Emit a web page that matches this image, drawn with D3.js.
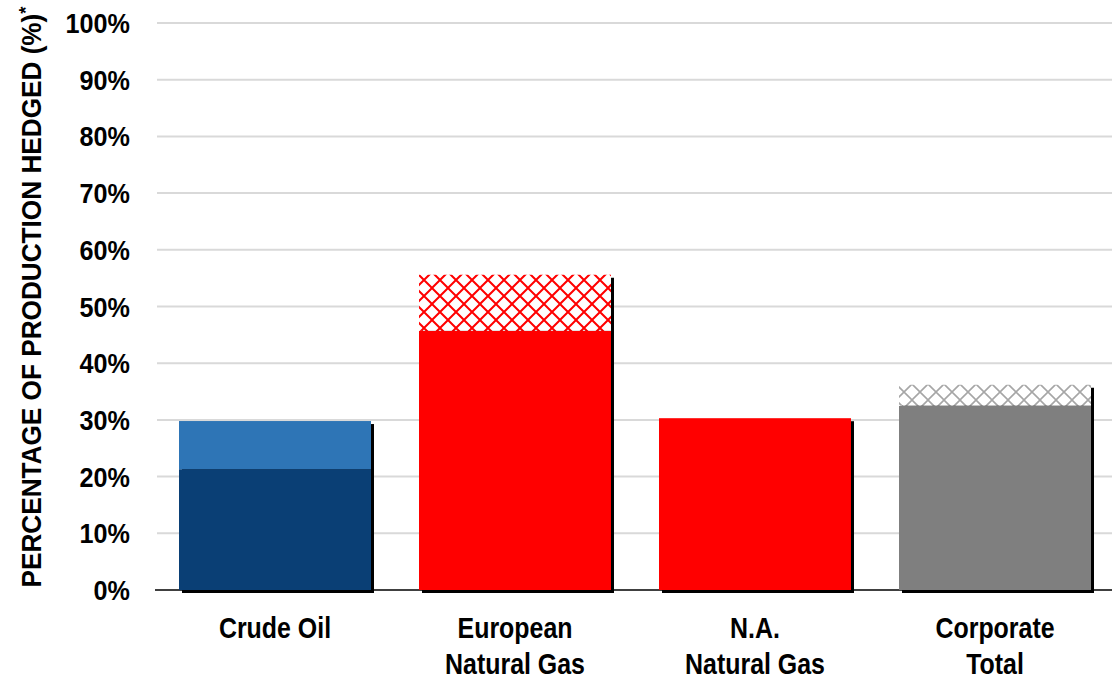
<!DOCTYPE html>
<html>
<head>
<meta charset="utf-8">
<script src="https://cdn.jsdelivr.net/npm/d3@7"></script>
<style>
  body { margin: 0; background: #fff; }
  svg text { fill: #000; }
</style>
</head>
<body>
<div class="barplot"></div>
<script>
// data
var categories = [["Crude Oil"], ["European", "Natural Gas"], ["N.A.", "Natural Gas"], ["Corporate", "Total"]];
var baseHedged = [21.3, 45.7, 30.3, 32.5];
var extraHedged = [8.5, 9.9, 0, 3.7];
var yTicks = [0, 10, 20, 30, 40, 50, 60, 70, 80, 90, 100];

var baseColors = ["#0a3f75", "#ff0000", "#ff0000", "#7f7f7f"];
var extraFills = ["#2e75b6", "url(#hatchRed)", "#ff0000", "url(#hatchGray)"];

var width = 1112, height = 678;
var margin = {top: 23, left: 155, right: -3, bottom: 88};
var fontFam = "'Liberation Sans', Arial, sans-serif";

var svg = d3.select(".barplot").append("svg")
    .attr("width", width)
    .attr("height", height);

// patterns
var defs = svg.append("defs");
function hatch(id, color, sw) {
  var p = defs.append("pattern")
      .attr("id", id)
      .attr("patternUnits", "userSpaceOnUse")
      .attr("width", 16)
      .attr("height", 16);
  p.append("rect").attr("width", 16).attr("height", 16).style("fill", "#fff");
  p.append("path")
      .attr("d", "M0,0L16,16M16,0L0,16M-8,8L8,-8M8,24L24,8M-8,8L8,24M8,-8L24,8")
      .style("stroke", color)
      .style("stroke-width", sw)
      .style("fill", "none");
}
hatch("hatchRed", "#ff0000", 2);
hatch("hatchGray", "#a6a6a6", 1.6);

var x = d3.scaleBand()
    .domain(d3.range(categories.length))
    .range([margin.left, width - margin.right])
    .paddingInner(0.2)
    .paddingOuter(0.1);

var y = d3.scaleLinear()
    .domain([0, 100])
    .range([height - margin.bottom, margin.top]);

// grid
svg.append("g")
  .selectAll("line")
  .data(yTicks.slice(1))
  .join("line")
    .attr("x1", margin.left + 2)
    .attr("x2", width)
    .attr("y1", d => y(d))
    .attr("y2", d => y(d))
    .style("stroke", "#d9d9d9")
    .style("stroke-width", 2);

// y tick labels (narrow look via horizontal scale)
svg.append("g")
  .selectAll("text")
  .data(yTicks)
  .join("text")
    .attr("transform", d => "translate(130," + y(d) + ") scale(0.9,1)")
    .attr("dy", "0.36em")
    .attr("text-anchor", "end")
    .style("font-family", fontFam)
    .style("font-weight", "bold")
    .style("font-size", "28px")
    .text(d => d + "%");

// baseline
svg.append("line")
    .attr("x1", margin.left)
    .attr("x2", width)
    .attr("y1", y(0))
    .attr("y2", y(0))
    .style("stroke", "#404040")
    .style("stroke-width", 2);

// shadows
svg.append("g")
  .selectAll("rect")
  .data(d3.range(categories.length))
  .join("rect")
    .attr("x", i => x(i) + 3)
    .attr("y", i => y(baseHedged[i] + extraHedged[i]) + 3)
    .attr("width", x.bandwidth())
    .attr("height", i => y(0) - y(baseHedged[i] + extraHedged[i]))
    .style("fill", "#000");

// base bars
svg.append("g")
  .selectAll("rect")
  .data(d3.range(categories.length))
  .join("rect")
    .attr("x", i => x(i))
    .attr("y", i => y(baseHedged[i]))
    .attr("width", x.bandwidth())
    .attr("height", i => y(0) - y(baseHedged[i]))
    .style("fill", i => baseColors[i]);

// extra bars
svg.append("g")
  .selectAll("rect")
  .data(d3.range(categories.length).filter(i => extraHedged[i] > 0))
  .join("rect")
    .attr("x", i => x(i))
    .attr("y", i => y(baseHedged[i] + extraHedged[i]))
    .attr("width", x.bandwidth())
    .attr("height", i => y(baseHedged[i]) - y(baseHedged[i] + extraHedged[i]))
    .style("fill", i => extraFills[i]);

// category labels
var cat = svg.append("g")
  .selectAll("text")
  .data(categories)
  .join("text")
    .attr("transform", (d, i) => "translate(" + (x(i) + x.bandwidth() / 2) + ",638) scale(0.86,1)")
    .attr("text-anchor", "middle")
    .style("font-family", fontFam)
    .style("font-weight", "bold")
    .style("font-size", "29px");
cat.selectAll("tspan")
  .data(d => d)
  .join("tspan")
    .attr("x", 0)
    .attr("y", (d, j) => j * 36)
    .text(d => d);

// y title
var title = svg.append("text")
    .attr("transform", "translate(41,297) rotate(-90) scale(0.97,1)")
    .attr("text-anchor", "middle")
    .style("font-family", fontFam)
    .style("font-weight", "bold")
    .style("font-size", "27px");
title.append("tspan").text("PERCENTAGE OF PRODUCTION HEDGED (%)");
title.append("tspan").attr("dy", "-0.45em").style("font-size", "19px").text("*");
</script>
</body>
</html>
